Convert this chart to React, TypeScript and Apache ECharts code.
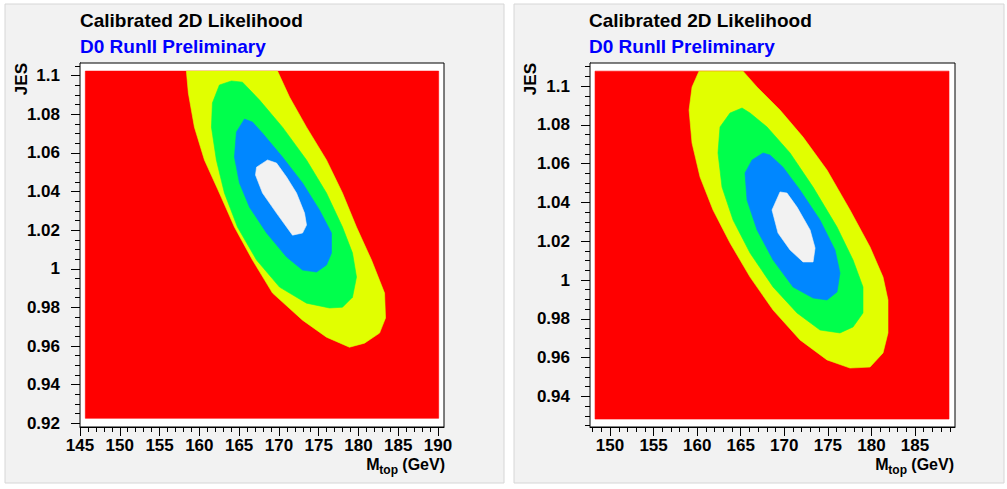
import React, { useEffect, useRef } from "react";
import * as echarts from "echarts";

type Pt = [number, number];

// ---- axis ranges (frame) ----
const leftXRange: Pt = [145, 190.75];
const leftYRange: Pt = [0.9181, 1.1065];
const rightXRange: Pt = [147.7, 189.59];
const rightYRange: Pt = [0.9242, 1.1119];

// ---- tick labels ----
const leftXMajor = [145, 150, 155, 160, 165, 170, 175, 180, 185, 190];
const leftYMajor = [0.92, 0.94, 0.96, 0.98, 1, 1.02, 1.04, 1.06, 1.08, 1.1];
const rightXMajor = [150, 155, 160, 165, 170, 175, 180, 185];
const rightYMajor = [0.94, 0.96, 0.98, 1, 1.02, 1.04, 1.06, 1.08, 1.1];

// ---- histogram extent (red field) ----
const leftFieldX: Pt = [145.67, 190.08];
const leftFieldY: Pt = [0.9226, 1.1023];
const rightFieldX: Pt = [148.28, 188.9];
const rightFieldY: Pt = [0.9283, 1.1077];

// ---- contour boundaries, left (871 pb^-1) ----
const leftYellow: Pt[] = [
  [158.37, 1.1023], [158.62, 1.0909], [159.38, 1.0733], [160.64, 1.0563], [162.52, 1.0392],
  [164.41, 1.0216], [166.68, 1.0045], [169.2, 0.9874], [172.97, 0.9734], [175.98, 0.9646],
  [178.87, 0.9594], [180.76, 0.9615], [182.65, 0.9667], [183.4, 0.9745], [183.28, 0.9874],
  [181.64, 1.0045], [179.75, 1.0216], [177.99, 1.0392], [175.98, 1.0563], [173.47, 1.0733],
  [171.33, 1.0889], [169.83, 1.1023],
];
const leftGreen: Pt[] = [
  [164.03, 1.0972], [162.52, 1.0951], [161.64, 1.0858], [161.52, 1.0733], [162.14, 1.0563],
  [163.15, 1.0392], [164.79, 1.0216], [167.19, 1.0045], [170.08, 0.9905], [173.47, 0.9822],
  [176.36, 0.9797], [177.99, 0.9801], [179.25, 0.9853], [179.75, 0.9957], [179.25, 1.0081],
  [177.99, 1.0216], [175.98, 1.0392], [173.47, 1.0563], [170.45, 1.0733], [167.57, 1.0873],
  [165.42, 1.0966],
];
const leftBlue: Pt[] = [
  [165.67, 1.0775], [164.66, 1.0708], [164.41, 1.0578], [165.04, 1.0444], [166.3, 1.0319],
  [168.45, 1.0185], [170.96, 1.0061], [172.97, 0.9993], [174.73, 0.9983], [175.98, 1.0019],
  [176.61, 1.0081], [176.61, 1.0185], [175.1, 1.0304], [172.97, 1.0444], [170.45, 1.0578],
  [167.94, 1.0702], [166.68, 1.0759],
];
const leftWhite: Pt[] = [
  [168.57, 1.0563], [167.19, 1.0526], [167.06, 1.0485], [167.94, 1.0392], [169.7, 1.0288],
  [171.71, 1.0174], [172.97, 1.0185], [173.47, 1.0226], [173.22, 1.0288], [172.21, 1.0392],
  [170.96, 1.0475], [169.7, 1.0547],
];

// ---- contour boundaries, right (913 pb^-1) ----
const rightYellow: Pt[] = [
  [160.21, 1.1077], [159.41, 1.0995], [159.07, 1.0876], [159.41, 1.0706], [160.33, 1.0531],
  [161.82, 1.0361], [163.77, 1.0191], [166.07, 1.0015], [168.71, 0.9845], [171.8, 0.9691],
  [174.9, 0.9588], [177.54, 0.9546], [179.84, 0.9551], [181.33, 0.9624], [181.9, 0.9727],
  [181.9, 0.9897], [181.33, 1.0015], [179.84, 1.017], [177.54, 1.0361], [174.9, 1.0567],
  [172.15, 1.0737], [169.51, 1.0876], [166.87, 1.0995], [165.26, 1.1077],
];
const rightGreen: Pt[] = [
  [165.15, 1.0887], [163.77, 1.0861], [162.62, 1.0789], [162.39, 1.0655], [162.85, 1.0479],
  [164.12, 1.0309], [166.07, 1.0139], [168.71, 0.9964], [171.46, 0.983], [174.1, 0.9742],
  [176.39, 0.9727], [177.89, 0.9758], [179.03, 0.983], [179.03, 0.9964], [177.89, 1.0103],
  [176.05, 1.0273], [173.3, 1.0479], [170.66, 1.0655], [168.02, 1.0789], [166.07, 1.0861],
];
const rightBlue: Pt[] = [
  [167.56, 1.0655], [166.3, 1.0619], [165.49, 1.0552], [165.72, 1.0412], [166.87, 1.0258],
  [168.71, 1.0103], [171.0, 0.9964], [173.3, 0.9907], [174.9, 0.9897], [176.05, 0.9938],
  [176.39, 1.0036], [175.82, 1.0155], [174.1, 1.0309], [171.8, 1.0464], [169.85, 1.0582],
  [168.36, 1.0644],
];
const rightWhite: Pt[] = [
  [169.51, 1.0454], [168.59, 1.0361], [169.28, 1.0242], [170.66, 1.0155], [172.15, 1.0093],
  [173.3, 1.0093], [173.53, 1.0165], [172.96, 1.0258], [171.46, 1.0376], [170.31, 1.0448],
];

const COLORS = {
  red: "#ff0000",
  yellow: "#e1ff00",
  green: "#00ff4c",
  blue: "#0087ff",
  white: "#f2f2f2",
};

const FONT = "'Liberation Sans', Arial, Helvetica, sans-serif";

function minorTicks(from: number, to: number, step: number): number[] {
  const out: number[] = [];
  const n = Math.round((to - from) / step);
  for (let i = 0; i <= n; i++) out.push(Math.round((from + i * step) * 10000) / 10000);
  return out;
}

function rectPoints(xs: Pt, ys: Pt): Pt[] {
  return [[xs[0], ys[0]], [xs[1], ys[0]], [xs[1], ys[1]], [xs[0], ys[1]]];
}

function polySeries(points: Pt[], color: string, axisIdx: number) {
  return {
    type: "custom",
    xAxisIndex: axisIdx,
    yAxisIndex: axisIdx,
    silent: true,
    clip: false,
    data: [[points[0][0], points[0][1]]],
    encode: { x: 0, y: 1 },
    renderItem: (_params: any, api: any) => ({
      type: "polygon",
      shape: { points: points.map((p) => api.coord(p)) },
      style: { fill: color, stroke: color, lineWidth: 0.6 },
    }),
  };
}

function xAxes(range: Pt, majors: number[], minors: number[], grid: number) {
  return [
    {
      type: "value", gridIndex: grid, position: "bottom", min: range[0], max: range[1],
      splitLine: { show: false },
      axisLine: { show: true, lineStyle: { color: "#000", width: 1 } },
      axisTick: { show: true, customValues: majors, length: 9, lineStyle: { color: "#000" } },
      axisLabel: {
        show: true, customValues: majors, margin: 11, color: "#000", fontSize: 17, lineHeight: 14,
        fontWeight: "bold", fontFamily: FONT, formatter: (v: number) => String(v),
      },
    },
    {
      type: "value", gridIndex: grid, position: "bottom", min: range[0], max: range[1],
      splitLine: { show: false },
      axisLine: { show: false },
      axisTick: { show: true, customValues: minors, length: 5, lineStyle: { color: "#000" } },
      axisLabel: { show: false },
    },
  ];
}

function yAxes(range: Pt, majors: number[], minors: number[], grid: number) {
  return [
    {
      type: "value", gridIndex: grid, position: "left", min: range[0], max: range[1],
      splitLine: { show: false },
      axisLine: { show: true, lineStyle: { color: "#000", width: 1 } },
      axisTick: { show: true, customValues: majors, length: 9, lineStyle: { color: "#000" } },
      axisLabel: {
        show: true, customValues: majors, margin: 20, color: "#000", fontSize: 17,
        fontWeight: "bold", fontFamily: FONT, formatter: (v: number) => String(v),
      },
    },
    {
      type: "value", gridIndex: grid, position: "left", min: range[0], max: range[1],
      splitLine: { show: false },
      axisLine: { show: false },
      axisTick: { show: true, customValues: minors, length: 5, lineStyle: { color: "#000" } },
      axisLabel: { show: false },
    },
  ];
}

function panelTexts(x0: number, jesX: number, mRight: number, lumi: string, lumiX: number) {
  const bold = { fontFamily: FONT, fontWeight: "bold" };
  return [
    { type: "text", x: x0, y: 20, style: { ...bold, text: "Calibrated 2D Likelihood", fontSize: 19, fill: "#000", textVerticalAlign: "middle" } },
    { type: "text", x: x0, y: 46, style: { ...bold, text: "D0 RunII Preliminary", fontSize: 19, fill: "#0000ff", textVerticalAlign: "middle" } },
    { type: "text", x: jesX, y: 63, rotation: Math.PI / 2, style: { ...bold, text: "JES", fontSize: 17, fill: "#000", textAlign: "right", textVerticalAlign: "middle" } },
    { type: "text", x: mRight, y: 464, style: { ...bold, text: " (GeV)", fontSize: 16, lineHeight: 13, fill: "#000", textAlign: "right", textVerticalAlign: "middle" } },
    { type: "text", x: mRight - 47, y: 470, style: { ...bold, text: "top", fontSize: 12, lineHeight: 10, fill: "#000", textAlign: "right", textVerticalAlign: "middle" } },
    { type: "text", x: mRight - 65.5, y: 464, style: { ...bold, text: "M", fontSize: 16, lineHeight: 13, fill: "#000", textAlign: "right", textVerticalAlign: "middle" } },
    { type: "text", x: lumiX, y: 93, style: { ...bold, text: lumi, fontSize: 17, fill: "#000", textVerticalAlign: "middle" } },
    { type: "text", x: lumiX + 50.5, y: 87, style: { ...bold, text: "-1", fontSize: 11, fill: "#000", textVerticalAlign: "middle" } },
    { type: "text", x: lumiX, y: 119.5, style: { ...bold, text: "0+1+2 Tags", fontSize: 17, fill: "#000", textVerticalAlign: "middle" } },
  ];
}

export default function App() {
  const ref = useRef<HTMLDivElement>(null);

  useEffect(() => {
    if (!ref.current) return;
    const chart = echarts.init(ref.current, undefined, { renderer: "svg" });

    const option: any = {
      animation: false,
      backgroundColor: "#ffffff",
      grid: [
        { left: 80, top: 63, width: 364, height: 364, show: true, backgroundColor: "#ffffff", borderColor: "#000", borderWidth: 1, z: 1 },
        { left: 590, top: 63, width: 365, height: 364, show: true, backgroundColor: "#ffffff", borderColor: "#000", borderWidth: 1, z: 1 },
      ],
      xAxis: [
        ...xAxes(leftXRange, leftXMajor, minorTicks(145, 190, 1), 0),
        ...xAxes(rightXRange, rightXMajor, minorTicks(148, 189, 1), 1),
      ],
      yAxis: [
        ...yAxes(leftYRange, leftYMajor, minorTicks(0.92, 1.105, 0.005), 0),
        ...yAxes(rightYRange, rightYMajor, minorTicks(0.925, 1.11, 0.005), 1),
      ],
      series: [
        polySeries(rectPoints(leftFieldX, leftFieldY), COLORS.red, 0),
        polySeries(leftYellow, COLORS.yellow, 0),
        polySeries(leftGreen, COLORS.green, 0),
        polySeries(leftBlue, COLORS.blue, 0),
        polySeries(leftWhite, COLORS.white, 0),
        polySeries(rectPoints(rightFieldX, rightFieldY), COLORS.red, 2),
        polySeries(rightYellow, COLORS.yellow, 2),
        polySeries(rightGreen, COLORS.green, 2),
        polySeries(rightBlue, COLORS.blue, 2),
        polySeries(rightWhite, COLORS.white, 2),
      ],
      graphic: [
        { type: "rect", z: -10, shape: { x: 5, y: 4, width: 499, height: 479 }, style: { fill: "#f2f2f2", stroke: "#d6d6d6", lineWidth: 1 } },
        { type: "rect", z: -10, shape: { x: 514, y: 4, width: 490, height: 479 }, style: { fill: "#f2f2f2", stroke: "#d6d6d6", lineWidth: 1 } },
        ...panelTexts(80, 21, 445, "871pb", 330),
        ...panelTexts(589, 530, 954, "913pb", 839),
      ],
    };

    chart.setOption(option);
    return () => chart.dispose();
  }, []);

  return (
    <div
      ref={ref}
      style={{ position: "absolute", left: 0, top: 0, width: 1007, height: 489 }}
    />
  );
}
